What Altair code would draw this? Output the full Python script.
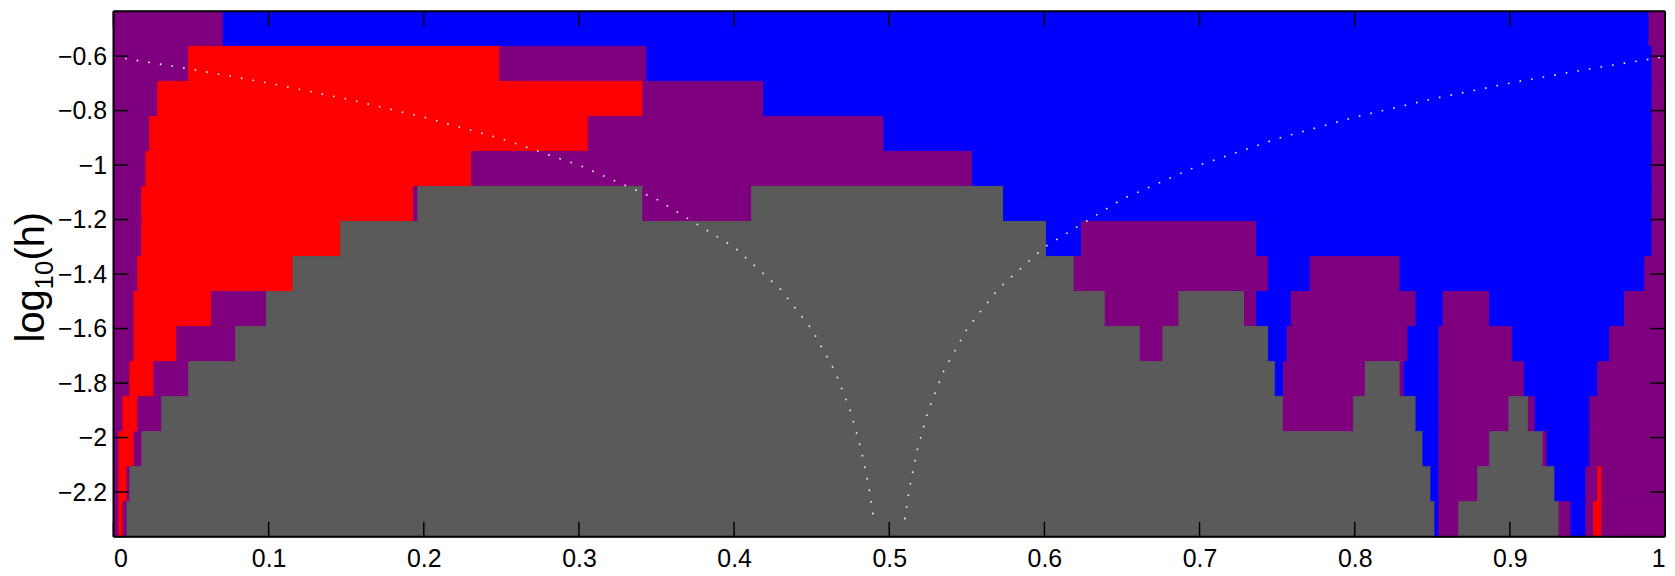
import altair as alt
import pandas as pd

# ---- data ----
ROW_CENTERS = [-0.5, -0.6286, -0.7571, -0.8857, -1.0143, -1.1429, -1.2714, -1.4,
               -1.5286, -1.6571, -1.7857, -1.9143, -2.0429, -2.1714, -2.3]
ROW_HALF = 0.0643

# P = purple, R = red, B = blue, G = gray
ROW_EDGES = [
    [0, 0.0707, 0.9897, 1],
    [0, 0.0485, 0.249, 0.3438, 0.9917, 1],
    [0, 0.0286, 0.3412, 0.419, 0.9917, 1],
    [0, 0.0234, 0.306, 0.4966, 0.9917, 1],
    [0, 0.0209, 0.2308, 0.5537, 0.9917, 1],
    [0, 0.0183, 0.1934, 0.1962, 0.3412, 0.4112, 0.5737, 0.9917, 1],
    [0, 0.0183, 0.1463, 0.6013, 0.6238, 0.7368, 0.9917, 1],
    [0, 0.0157, 0.1157, 0.6192, 0.7444, 0.7713, 0.8292, 0.987, 1],
    [0, 0.0132, 0.0632, 0.0986, 0.6392, 0.6867, 0.729, 0.7367, 0.7591, 0.8395, 0.8569, 0.887, 0.974, 1],
    [0, 0.0132, 0.0408, 0.0787, 0.6617, 0.6764, 0.7444, 0.7565, 0.8343, 0.8543, 0.9016, 0.9644, 1],
    [0, 0.0106, 0.026, 0.0485, 0.7488, 0.754, 0.8068, 0.8292, 0.8318, 0.8543, 0.9093, 0.9567, 1],
    [0, 0.0061, 0.0157, 0.0311, 0.754, 0.7992, 0.8395, 0.8543, 0.8994, 0.912, 0.9163, 0.9516, 1],
    [0, 0.0035, 0.0132, 0.0183, 0.844, 0.8543, 0.887, 0.9214, 0.924, 0.9516, 1],
    [0, 0.0035, 0.0087, 0.0106, 0.8491, 0.8543, 0.8793, 0.929, 0.949, 0.9567, 0.9593, 1],
    [0, 0.0035, 0.0061, 0.0087, 0.8517, 0.8543, 0.8671, 0.9317, 0.9394, 0.949, 0.9541, 0.9593, 1],
]
ROW_COLORS = [
    ["P", "B", "P"],
    ["P", "R", "P", "B", "P"],
    ["P", "R", "P", "B", "P"],
    ["P", "R", "P", "B", "P"],
    ["P", "R", "P", "B", "P"],
    ["P", "R", "P", "G", "P", "G", "B", "P"],
    ["P", "R", "G", "B", "P", "B", "P"],
    ["P", "R", "G", "P", "B", "P", "B", "P"],
    ["P", "R", "P", "G", "P", "G", "P", "B", "P", "B", "P", "B", "P"],
    ["P", "R", "P", "G", "P", "G", "B", "P", "B", "P", "B", "P"],
    ["P", "R", "P", "G", "B", "P", "G", "P", "B", "P", "B", "P"],
    ["P", "R", "P", "G", "P", "G", "B", "P", "G", "P", "B", "P"],
    ["P", "R", "P", "G", "B", "P", "G", "P", "B", "P"],
    ["P", "R", "P", "G", "B", "P", "G", "B", "P", "R", "P"],
    ["P", "R", "P", "G", "B", "P", "G", "P", "B", "P", "R", "P"],
]

# dotted white curve (two branches)
CURVE_LEFT_X = [0, 0.05, 0.10, 0.15, 0.20, 0.25, 0.30, 0.35, 0.40, 0.43, 0.45, 0.465, 0.475, 0.482, 0.487, 0.490]
CURVE_LEFT_Y = [-0.602, -0.648, -0.699, -0.757, -0.824, -0.903, -1.0, -1.125, -1.301, -1.456, -1.602, -1.757, -1.903, -2.046, -2.187, -2.30]
CURVE_RIGHT_X = [0.510, 0.513, 0.518, 0.525, 0.535, 0.55, 0.57, 0.60, 0.65, 0.70, 0.75, 0.80, 0.85, 0.90, 0.95, 1.0]
CURVE_RIGHT_Y = [-2.30, -2.187, -2.046, -1.903, -1.757, -1.602, -1.456, -1.301, -1.125, -1.0, -0.903, -0.824, -0.757, -0.699, -0.648, -0.602]

XTICKS = [0, 0.1, 0.2, 0.3, 0.4, 0.5, 0.6, 0.7, 0.8, 0.9, 1]
YTICKS = [-2.2, -2, -1.8, -1.6, -1.4, -1.2, -1, -0.8, -0.6]

COLOR_KEYS = ["P", "R", "B", "G"]
COLOR_VALUES = ["#7f007f", "#ff0000", "#0000ff", "#5a5a5a"]

# ---- build tables ----
recs = []
for yc, edges, cols in zip(ROW_CENTERS, ROW_EDGES, ROW_COLORS):
    for i, c in enumerate(cols):
        recs.append({"x": edges[i], "x2": edges[i + 1],
                     "y": yc - ROW_HALF, "y2": yc + ROW_HALF, "c": c})
rects_df = pd.DataFrame(recs)

curve_df = pd.DataFrame(
    [{"x": x, "y": y, "b": "L", "o": i} for i, (x, y) in enumerate(zip(CURVE_LEFT_X, CURVE_LEFT_Y))]
    + [{"x": x, "y": y, "b": "R", "o": i} for i, (x, y) in enumerate(zip(CURVE_RIGHT_X, CURVE_RIGHT_Y))]
)
xt_df = pd.DataFrame({"x": XTICKS})
yt_df = pd.DataFrame({"y": YTICKS})
one = pd.DataFrame({"a": [0]})

W, H = 1559, 528
FONT = "Liberation Sans"
YMIN, YMAX = -2.3643, -0.4357

xs = alt.Scale(domain=[0, 1], nice=False, zero=False)
ys = alt.Scale(domain=[YMIN, YMAX], nice=False, zero=False)
cs = alt.Scale(domain=COLOR_KEYS, range=COLOR_VALUES)

x_axis = alt.Axis(values=XTICKS, format="~g", ticks=False, domain=False, grid=False,
                  labelFont=FONT, labelFontSize=25, labelColor="black", labelPadding=10, title=None)
y_axis = alt.Axis(values=YTICKS, format="~g", ticks=False, domain=False, grid=False,
                  labelFont=FONT, labelFontSize=25, labelColor="black", labelPadding=7, title=None,
                  labelExpr="replace(datum.label, '-', '\u2212')")

X = alt.X("x:Q", scale=xs, axis=x_axis)
Y = alt.Y("y:Q", scale=ys, axis=y_axis)

rects = alt.Chart(rects_df).mark_rect(strokeWidth=1.0).encode(
    x=X, x2="x2:Q", y=Y, y2="y2:Q",
    color=alt.Color("c:N", scale=cs, legend=None),
    stroke=alt.Stroke("c:N", scale=cs, legend=None),
)

curve = alt.Chart(curve_df).mark_line(color="white", strokeWidth=1.6, strokeDash=[1.6, 10.2],
                                      opacity=0.95).encode(
    x=X, y=Y, detail="b:N", order="o:Q",
)

TL = 15
tick_bottom = alt.Chart(xt_df).mark_rule(color="black", strokeWidth=1.5).encode(
    x=X, y=alt.value(H), y2=alt.value(H - TL))
tick_top = alt.Chart(xt_df).mark_rule(color="black", strokeWidth=1.5).encode(
    x=X, y=alt.value(0), y2=alt.value(TL))
tick_left = alt.Chart(yt_df).mark_rule(color="black", strokeWidth=1.5).encode(
    y=Y, x=alt.value(0), x2=alt.value(TL))
tick_right = alt.Chart(yt_df).mark_rule(color="black", strokeWidth=1.5).encode(
    y=Y, x=alt.value(W), x2=alt.value(W - TL))

frame = [
    alt.Chart(one).mark_rule(color="black", strokeWidth=2).encode(x=alt.value(0), x2=alt.value(W), y=alt.value(0)),
    alt.Chart(one).mark_rule(color="black", strokeWidth=2).encode(x=alt.value(0), x2=alt.value(W), y=alt.value(H)),
    alt.Chart(one).mark_rule(color="black", strokeWidth=2).encode(x=alt.value(0), y=alt.value(0), y2=alt.value(H)),
    alt.Chart(one).mark_rule(color="black", strokeWidth=2).encode(x=alt.value(W), y=alt.value(0), y2=alt.value(H)),
]

title_log = alt.Chart(one).mark_text(text="log", angle=270, font=FONT, fontSize=40, align="center",
                                     baseline="alphabetic", color="black").encode(
    x=alt.value(-70), y=alt.value(306))
title_sub = alt.Chart(one).mark_text(text="10", angle=270, font=FONT, fontSize=26, align="center",
                                     baseline="alphabetic", color="black").encode(
    x=alt.value(-61), y=alt.value(265))
title_h = alt.Chart(one).mark_text(text="(h)", angle=270, font=FONT, fontSize=40, align="center",
                                   baseline="alphabetic", color="black").encode(
    x=alt.value(-70), y=alt.value(226))

chart = alt.layer(
    rects, curve, tick_bottom, tick_top, tick_left, tick_right, *frame,
    title_log, title_sub, title_h,
).properties(
    width=W, height=H,
    autosize=alt.AutoSizeParams(type="none"),
    padding={"left": 106, "top": 2, "right": 2, "bottom": 36},
).configure_view(stroke=None).configure(background="white")

chart.save("out.html", embed_options={"renderer": "svg", "actions": False})
